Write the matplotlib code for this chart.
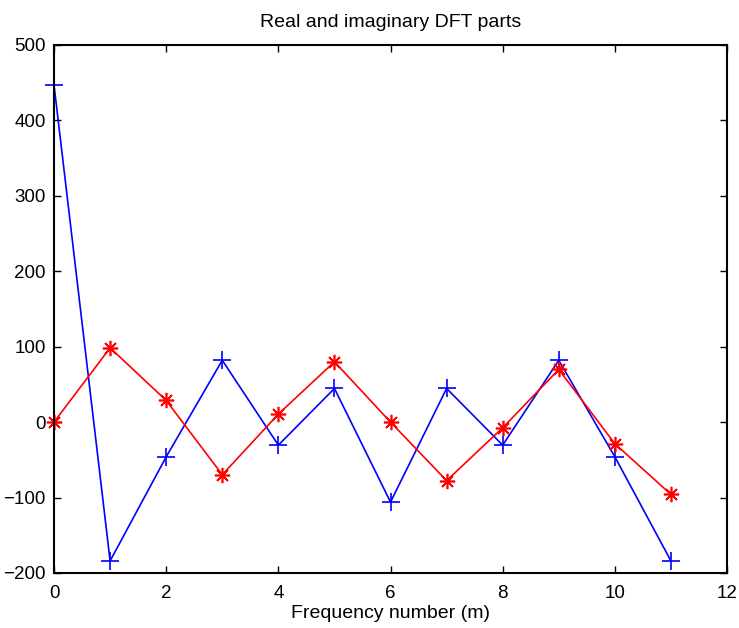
import numpy as np
import matplotlib
matplotlib.use("Agg")
import matplotlib.pyplot as plt

plt.rcParams['font.family'] = ['Liberation Sans', 'DejaVu Sans']

# frequency index m
m = np.arange(12)
# real part of DFT (blue +)
real_part = [447, -184, -46, 82, -30.5, 44.6, -106, 44.6, -30.5, 82, -46, -184]
# imaginary part of DFT (red *)
imag_part = [0, 98.5, 28.7, -69.7, 10.6, 80, 0, -77.6, -7.5, 69.8, -28.7, -95.8]

fig = plt.figure(figsize=(7.39, 6.28), dpi=100)
ax = fig.add_axes([0.0731, 0.0876, 0.9107, 0.8408])

ax.plot(m, real_part, color='#0000ff', marker='+', markersize=13,
        markeredgewidth=1.2, linewidth=1.2, clip_on=False)
ax.plot(m, imag_part, color='#ff0000', marker=(8, 2, 0), markersize=11,
        markeredgewidth=1.2, linewidth=1.2, clip_on=False)

ax.set_xlim(0, 12)
ax.set_ylim(-200, 500)
ax.set_xticks(np.arange(0, 13, 2))
ax.set_yticks(np.arange(-200, 501, 100))
ax.tick_params(direction='in', top=True, right=True, length=5, width=1,
               labelsize=13.5)
ax.tick_params(axis='x', pad=9)
ax.tick_params(axis='y', pad=6)
for s in ax.spines.values():
    s.set_linewidth(1.5)

ax.set_title("Real and imaginary DFT parts", fontsize=14, pad=13)
ax.set_xlabel("Frequency number (m)", fontsize=14, labelpad=2)

fig.savefig("out.png", dpi=100)
